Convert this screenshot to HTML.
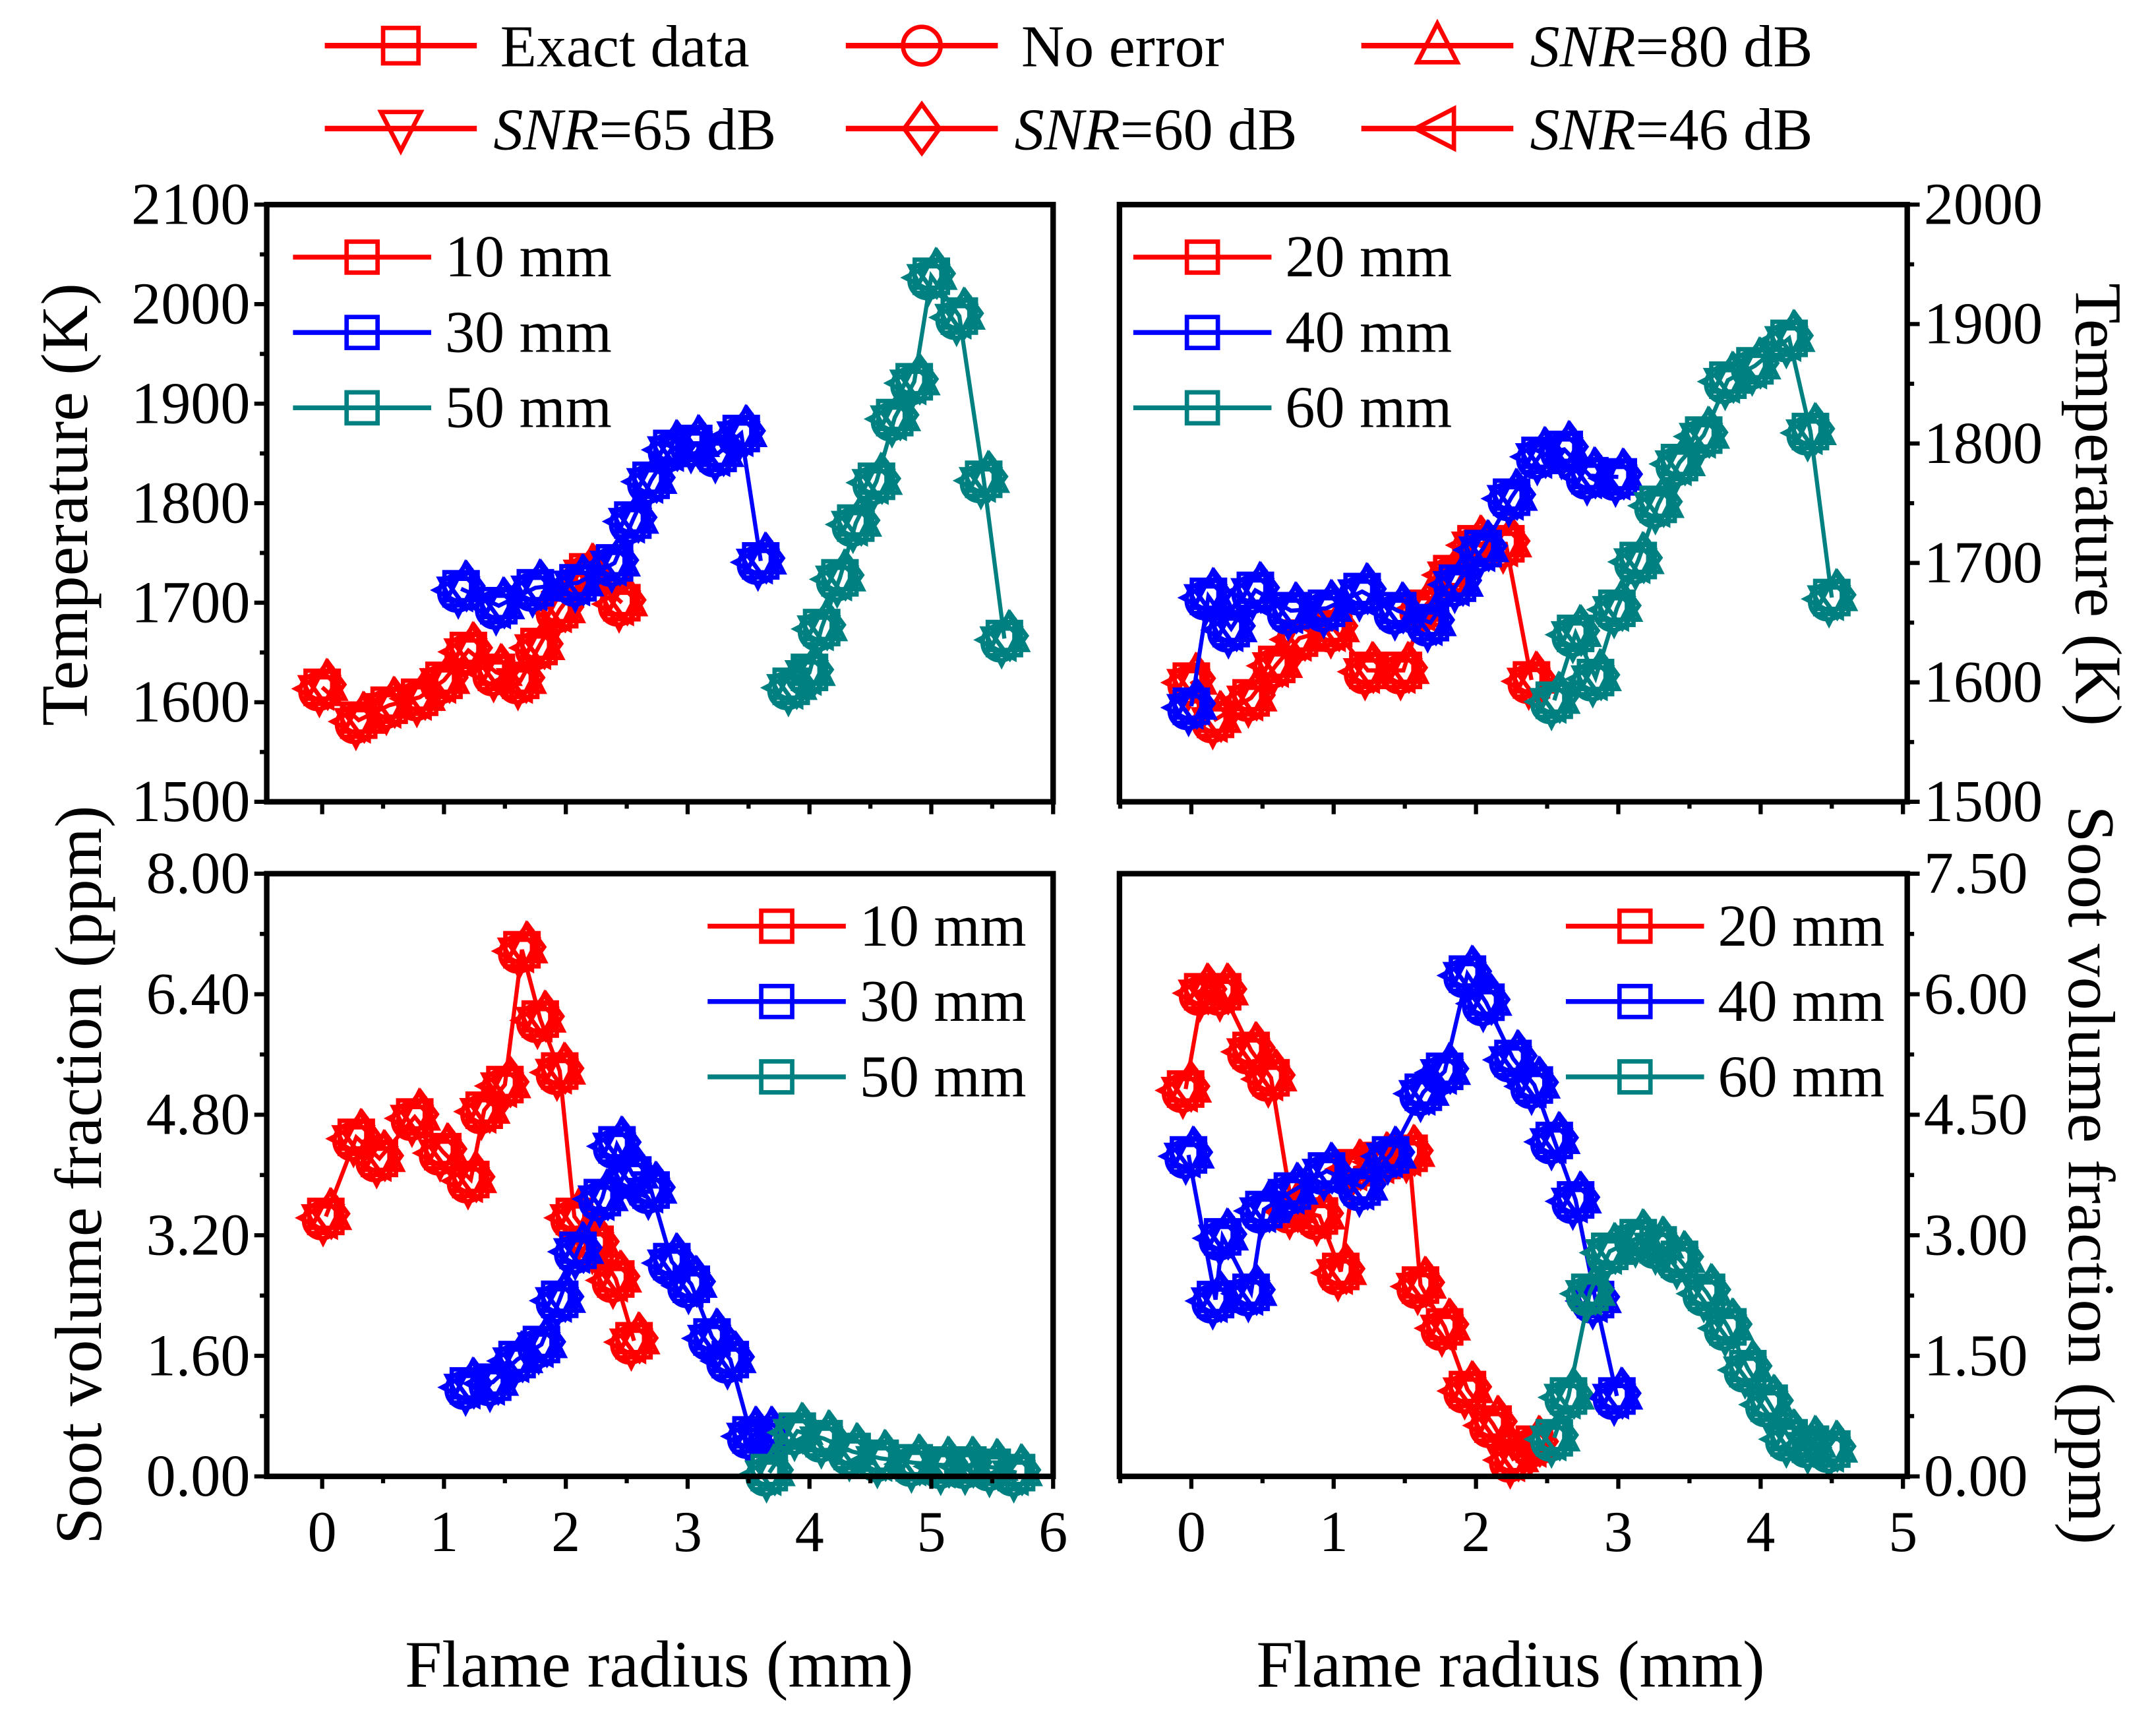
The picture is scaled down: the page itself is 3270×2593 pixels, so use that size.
<!DOCTYPE html>
<html><head><meta charset="utf-8"><style>
html,body{margin:0;padding:0;background:#fff}
svg{display:block}
text{font-family:"Liberation Serif",serif;fill:#000}
</style></head><body>
<svg id="fig" width="3270" height="2593" viewBox="0 0 1560 1237" xmlns="http://www.w3.org/2000/svg">
<g id="root"></g>
</svg>
<script>
// ---- data ----
const tlRed10 = [[0,1615],[0.3,1582],[0.55,1597],[0.8,1605],[1.0,1622],[1.2,1652],[1.43,1630],[1.63,1622],[1.78,1656],[1.95,1693],[2.18,1731],[2.46,1700]];
const tlBlue30 = [[1.14,1714],[1.45,1697],[1.75,1715],[2.1,1720],[2.4,1740],[2.55,1783],[2.7,1823],[2.87,1855],[3.05,1860],[3.25,1850],[3.44,1870],[3.6,1742]];
const tlTeal50 = [[3.85,1616],[4.0,1630],[4.1,1675],[4.25,1725],[4.38,1780],[4.55,1822],[4.7,1886],[4.86,1922],[5.0,2028],[5.23,1988],[5.43,1824],[5.6,1664]];
const trRed20 = [[0,1601],[0.17,1569],[0.42,1587],[0.6,1615],[0.76,1637],[1.0,1645],[1.24,1610],[1.49,1610],[1.63,1662],[1.83,1691],[2.0,1716],[2.21,1716],[2.39,1602]];
const trBlue40 = [[0,1580],[0.12,1672],[0.28,1645],[0.45,1677],[0.7,1660],[0.95,1662],[1.2,1676],[1.45,1660],[1.68,1650],[1.87,1683],[2.05,1712],[2.25,1755],[2.45,1790],[2.62,1795],[2.8,1773],[3.0,1772]];
const trTeal60 = [[2.55,1585],[2.7,1641],[2.84,1604],[2.99,1662],[3.14,1702],[3.28,1749],[3.43,1784],[3.6,1807],[3.77,1853],[3.96,1865],[4.2,1888],[4.35,1810],[4.5,1671]];
const blRed10 = [[0.03,3.45],[0.28,4.5],[0.47,4.22],[0.76,4.77],[0.99,4.31],[1.22,3.94],[1.33,4.86],[1.5,5.2],[1.64,6.99],[1.79,6.07],[1.95,5.38],[2.07,3.45],[2.24,3.08],[2.41,2.62],[2.56,1.8]];
const blBlue30 = [[1.2,1.2],[1.4,1.25],[1.6,1.55],[1.8,1.75],[1.95,2.35],[2.1,3.0],[2.3,3.7],[2.42,4.4],[2.55,4.0],[2.7,3.8],[2.87,2.85],[3.03,2.55],[3.2,1.85],[3.35,1.55],[3.52,0.55],[3.65,0.55]];
const blTeal50 = [[3.67,0.05],[3.9,0.6],[4.12,0.5],[4.35,0.33],[4.58,0.24],[4.86,0.18],[5.1,0.15],[5.3,0.15],[5.5,0.12],[5.7,0.05]];
const brRed20 = [[-0.04,4.82],[0.08,6.03],[0.22,6.03],[0.42,5.3],[0.56,4.96],[0.71,3.32],[0.9,3.24],[1.05,2.55],[1.15,3.84],[1.34,3.93],[1.53,4.02],[1.61,2.38],[1.78,1.86],[1.94,1.08],[2.12,0.65],[2.26,0.22],[2.41,0.4]];
const brBlue40 = [[-0.02,4.0],[0.17,2.2],[0.22,2.98],[0.42,2.29],[0.51,3.32],[0.71,3.55],[0.95,3.8],[1.2,3.6],[1.4,4.0],[1.63,4.78],[1.78,5.04],[1.94,6.25],[2.07,5.9],[2.26,5.2],[2.41,4.87],[2.55,4.18],[2.7,3.44],[2.84,2.2],[2.99,1.0]];
const brTeal60 = [[2.55,0.48],[2.65,1.0],[2.8,2.29],[2.94,2.8],[3.14,2.97],[3.28,2.88],[3.43,2.7],[3.62,2.29],[3.77,1.86],[3.91,1.34],[4.06,0.91],[4.2,0.48],[4.35,0.4],[4.5,0.34]];
const leftXTicks = [0,1,2,3,4,5,6];
const rightXTicks = [0,1,2,3,4,5];
const tempTicksL = [1500,1600,1700,1800,1900,2000,2100];
const tempTicksR = [1500,1600,1700,1800,1900,2000];
const sootTicksL = [0,1.6,3.2,4.8,6.4,8.0];
const sootTicksR = [0,1.5,3.0,4.5,6.0,7.5];

const RED='#ff0000', BLUE='#0000ff', TEAL='#008080';
const NS='http://www.w3.org/2000/svg';
const root=document.getElementById('root');
function mk(tag,attrs,parent){const e=document.createElementNS(NS,tag);for(const k in attrs)e.setAttribute(k,attrs[k]);(parent||root).appendChild(e);return e;}

function marker(g,type,cx,cy,col,s){
  let e;
  if(type==='sq') e=mk('rect',{x:cx-s*0.8,y:cy-s*0.8,width:s*1.6,height:s*1.6},g);
  else if(type==='ci') e=mk('circle',{cx:cx,cy:cy,r:s*0.85},g);
  else if(type==='up') e=mk('polygon',{points:`${cx},${cy-s} ${cx+s*0.9},${cy+s*0.75} ${cx-s*0.9},${cy+s*0.75}`},g);
  else if(type==='dn') e=mk('polygon',{points:`${cx},${cy+s} ${cx+s*0.9},${cy-s*0.75} ${cx-s*0.9},${cy-s*0.75}`},g);
  else if(type==='di') e=mk('polygon',{points:`${cx},${cy-s*1.1} ${cx+s*0.8},${cy} ${cx},${cy+s*1.1} ${cx-s*0.8},${cy}`},g);
  else e=mk('polygon',{points:`${cx-s},${cy} ${cx+s*0.75},${cy-s*0.9} ${cx+s*0.75},${cy+s*0.9}`},g);
  e.setAttribute('fill','none');e.setAttribute('stroke',col);e.setAttribute('stroke-width','3.2');
  
  
  return e;
}
const TYPES=['sq','ci','up','dn','di','lt'];
const JX=[0,-3,3,-2,4,-4], JY=[0,3,-3,4,-2,1];

function panel(name,px0,px1,py0,py1,xmin,xmax,ymin,ymax,xticks,yticks,yfmt,rightSide,showXLabels,yMinorStep,series,legend){
  const g=mk('g',{});
  
  
  const X=v=>px0+(v-xmin)/(xmax-xmin)*(px1-px0);
  const Y=v=>py1-(v-ymin)/(ymax-ymin)*(py1-py0);
  series.forEach(s=>{
    const sg=mk('g',{},g);
    
    
    const pl=mk('polyline',{points:s.data.map(d=>X(d[0])+','+Y(d[1])).join(' '),fill:'none',stroke:s.col,'stroke-width':3},sg);
    
    
    s.data.forEach(d=>{TYPES.forEach((t,i)=>marker(sg,t,X(d[0])+JX[i],Y(d[1])+JY[i],s.col,15));});
  });
  const fr=mk('rect',{x:px0,y:py0,width:px1-px0,height:py1-py0,fill:'none',stroke:'#000','stroke-width':4},g);
  
  
  for(let v=Math.ceil(xmin*2)/2; v<=xmax+1e-9; v+=0.5){
    const major=Math.abs(v-Math.round(v))<1e-9;
    const t=mk('line',{x1:X(v),x2:X(v),y1:py1,y2:py1+(major?9:5),stroke:'#000','stroke-width':3},g);
    
    
  }
  if(showXLabels) xticks.forEach(v=>{
    const t=mk('text',{x:X(v),y:py1+54,'text-anchor':'middle','font-size':42},g);
    t.textContent=v;
    
    
  });
  const ax=rightSide?px1:px0, dir=rightSide?1:-1;
  for(let v=ymin; v<=ymax+1e-9; v+=yMinorStep){
    const major=yticks.some(t=>Math.abs(t-v)<1e-6);
    const t=mk('line',{x1:ax,x2:ax+dir*(major?9:5),y1:Y(v),y2:Y(v),stroke:'#000','stroke-width':3},g);
    
    
  }
  yticks.forEach(v=>{
    const t=mk('text',{x:ax+dir*12,y:Y(v)+14,'text-anchor':rightSide?'start':'end','font-size':43},g);
    t.textContent=yfmt(v);
    
    
  });
  legend.rows.forEach((r,i)=>{
    const ly=legend.y+i*54.5;
    const lg=mk('g',{},g);
    
    
    mk('line',{x1:legend.x,x2:legend.x+100,y1:ly,y2:ly,stroke:r.col,'stroke-width':3.5},lg);
    marker(lg,'sq',legend.x+50,ly,r.col,14);
    const t=mk('text',{x:legend.x+110,y:ly+14,'font-size':43},lg);
    t.textContent=r.label;
  });
}
const fmt0=v=>String(v), fmt2=v=>v.toFixed(2);
panel('temperature-panel-left',193,762,148,580,-0.455,6,1500,2100,leftXTicks,tempTicksL,fmt0,false,false,50,
  [{name:'10mm',col:RED,data:tlRed10},{name:'30mm',col:BLUE,data:tlBlue30},{name:'50mm',col:TEAL,data:tlTeal50}],
  {x:212,y:186,rows:[{col:RED,label:'10 mm'},{col:BLUE,label:'30 mm'},{col:TEAL,label:'50 mm'}]});
panel('temperature-panel-right',810,1380,148,580,-0.505,5.03,1500,2000,rightXTicks,tempTicksR,fmt0,true,false,50,
  [{name:'20mm',col:RED,data:trRed20},{name:'40mm',col:BLUE,data:trBlue40},{name:'60mm',col:TEAL,data:trTeal60}],
  {x:820,y:186,rows:[{col:RED,label:'20 mm'},{col:BLUE,label:'40 mm'},{col:TEAL,label:'60 mm'}]});
panel('soot-panel-left',193,762,632,1068,-0.455,6,0,8,leftXTicks,sootTicksL,fmt2,false,true,0.8,
  [{name:'10mm',col:RED,data:blRed10},{name:'30mm',col:BLUE,data:blBlue30},{name:'50mm',col:TEAL,data:blTeal50}],
  {x:512,y:670,rows:[{col:RED,label:'10 mm'},{col:BLUE,label:'30 mm'},{col:TEAL,label:'50 mm'}]});
panel('soot-panel-right',810,1380,632,1068,-0.505,5.03,0,7.5,rightXTicks,sootTicksR,fmt2,true,true,0.75,
  [{name:'20mm',col:RED,data:brRed20},{name:'40mm',col:BLUE,data:brBlue40},{name:'60mm',col:TEAL,data:brTeal60}],
  {x:1133,y:670,rows:[{col:RED,label:'20 mm'},{col:BLUE,label:'40 mm'},{col:TEAL,label:'60 mm'}]});

function title(txt,x,y,rot,name){
  const t=mk('text',{x:x,y:y,'text-anchor':'middle','font-size':48,transform:rot?`rotate(${rot} ${x} ${y})`:''});
  t.textContent=txt;
  
  
}
title('Temperature (K)',63,365,-90,'y-axis-title-temperature-left');
title('Temperature (K)',1502,365,90,'y-axis-title-temperature-right');
title('Soot volume fraction (ppm)',73,850,-90,'y-axis-title-soot-left');
title('Soot volume fraction (ppm)',1497,850,90,'y-axis-title-soot-right');
title('Flame radius (mm)',477,1220,0,'x-axis-title-left');
title('Flame radius (mm)',1093,1220,0,'x-axis-title-right');

const topLeg=[
 {t:'sq',x:235,y:33,label:'Exact data',it:false},
 {t:'ci',x:612,y:33,label:'No error',it:false},
 {t:'up',x:985,y:33,label:'80 dB',it:true},
 {t:'dn',x:235,y:93,label:'65 dB',it:true},
 {t:'di',x:612,y:93,label:'60 dB',it:true},
 {t:'lt',x:985,y:93,label:'46 dB',it:true}];
topLeg.forEach(l=>{
  const g=mk('g',{});
  
  
  mk('line',{x1:l.x,x2:l.x+110,y1:l.y,y2:l.y,stroke:RED,'stroke-width':4},g);
  marker(g,l.t,l.x+55,l.y,RED,16);
  const t=mk('text',{x:l.x+(l.it?122:127),y:l.y+15,'font-size':43},g);
  if(l.it){t.innerHTML='<tspan font-style="italic">SNR</tspan>='+l.label;}
  else t.textContent=l.label;
});
</script>
</body></html>
